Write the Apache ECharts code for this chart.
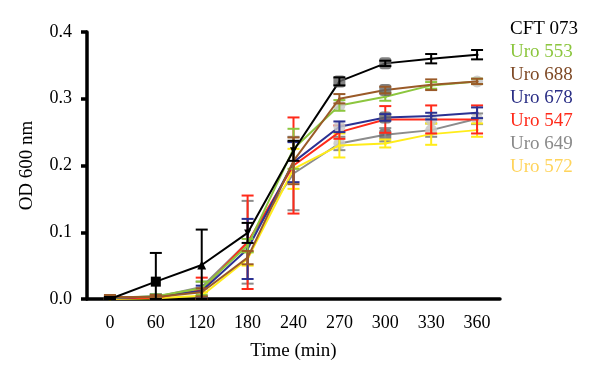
<!DOCTYPE html>
<html><head><meta charset="utf-8">
<script src="https://cdn.jsdelivr.net/npm/echarts@6/dist/echarts.min.js"></script>
<style>html,body{margin:0;padding:0;background:#fff}#c{width:600px;height:379px}</style>
</head><body><div id="c"></div>
<script>
var categories = ['0','60','120','180','240','270','300','330','360'];
var seriesNames = ['CFT 073','Uro 553','Uro 688','Uro 678','Uro 547','Uro 649','Uro 572'];
var lineColors = ['#000000','#8cc63e','#9a5a28','#2b3192','#ff2a1a','#8c8c8c','#ffec1a'];
var legendColors = ['#000000','#8cc63e','#7f4a26','#2b2f86','#ff2a1a','#8a8a8a','#ffd45c'];
var cft073 = [0.0, 0.026, 0.051, 0.099, 0.222, 0.326, 0.353, 0.36, 0.366];
var uro553 = [0.002, 0.004, 0.016, 0.08, 0.225, 0.29, 0.303, 0.32, 0.326];
var uro688 = [0.003, 0.003, 0.01, 0.062, 0.207, 0.3, 0.313, 0.321, 0.326];
var uro678 = [0.001, 0.004, 0.012, 0.075, 0.205, 0.258, 0.272, 0.274, 0.279];
var uro547 = [0.001, 0.002, 0.014, 0.085, 0.2, 0.25, 0.269, 0.269, 0.269];
var uro649 = [0.001, 0.003, 0.018, 0.085, 0.188, 0.233, 0.246, 0.253, 0.27];
var uro572 = [0.0, 0.001, 0.005, 0.06, 0.195, 0.23, 0.233, 0.247, 0.253];
var errCft073 = [0.003, 0.043, 0.053, 0.015, 0.015, 0.006, 0.004, 0.007, 0.007];
var err553 = [0.003, 0.003, 0.01, 0.01, 0.03, 0.008, 0.006, 0.005, 0.004];
var err688 = [0.003, 0.003, 0.006, 0.01, 0.035, 0.007, 0.005, 0.008, 0.004];
var err678 = [0.002, 0.003, 0.008, 0.045, 0.03, 0.008, 0.005, 0.005, 0.008];
var err547 = [0.002, 0.002, 0.018, 0.07, 0.072, 0.01, 0.02, 0.021, 0.021];
var err649 = [0.002, 0.002, 0.008, 0.062, 0.055, 0.01, 0.01, 0.01, 0.008];
var err572 = [0.002, 0.002, 0.005, 0.01, 0.03, 0.018, 0.006, 0.016, 0.01];
var yTicks = {min: 0, max: 0.4, interval: 0.1};

var values = [cft073, uro553, uro688, uro678, uro547, uro649, uro572];
var errors = [errCft073, err553, err688, err678, err547, err649, err572];
var font = 'Liberation Serif';

// marker styling (style only: which symbol is drawn on a given point)
var DARK = {symbol: 'roundRect', symbolSize: 12, itemStyle: {color: 'rgba(100,100,100,0.8)'}};
var LIGHT = {symbol: 'circle', symbolSize: 12, itemStyle: {color: 'rgba(200,200,200,0.85)'}};
var markerStyle = {
  0: {1: {symbol: 'rect', symbolSize: 10, itemStyle: {color: '#000'}},
      2: {symbol: 'triangle', symbolSize: 9, itemStyle: {color: '#000'}},
      3: {symbol: 'triangle', symbolRotate: 180, symbolSize: 7, itemStyle: {color: '#000'}},
      4: {symbol: 'triangle', symbolRotate: 180, symbolSize: 7, itemStyle: {color: '#000'}},
      5: DARK, 6: DARK},
  1: {5: LIGHT, 8: LIGHT},
  2: {6: DARK},
  3: {5: LIGHT, 6: DARK},
  4: {7: LIGHT},
  5: {5: LIGHT, 6: DARK, 7: LIGHT, 8: LIGHT}
};

var series = [];
var order = [5, 6, 4, 3, 1, 2, 0];
order.forEach(function (k, idx) {
  var col = lineColors[k];
  var ebData = values[k].map(function (v, i) {
    return [i, Math.max(0, v - errors[k][i]), v + errors[k][i]];
  });
  var ms = markerStyle[k] || {};
  var lineData = values[k].map(function (v, i) {
    var item = {value: v};
    if (ms[i]) { for (var key in ms[i]) item[key] = ms[i][key]; }
    return item;
  });
  series.push({
    type: 'line', name: seriesNames[k], z: 2 + idx * 2,
    data: lineData,
    symbol: 'circle',
    symbolSize: 3,
    lineStyle: {color: col, width: 2},
    itemStyle: {color: col},
    animation: false
  });
  series.push({
    type: 'custom', name: seriesNames[k], z: 3 + idx * 2, silent: true,
    data: ebData,
    renderItem: function (params, api) {
      var lo = api.coord([api.value(0), api.value(1)]);
      var hi = api.coord([api.value(0), api.value(2)]);
      var w = 6;
      var st = {stroke: col, lineWidth: 2, fill: null};
      return {type: 'group', children: [
        {type: 'line', shape: {x1: lo[0], y1: lo[1], x2: hi[0], y2: hi[1]}, style: st},
        {type: 'line', shape: {x1: lo[0] - w, y1: lo[1], x2: lo[0] + w, y2: lo[1]}, style: st},
        {type: 'line', shape: {x1: hi[0] - w, y1: hi[1], x2: hi[0] + w, y2: hi[1]}, style: st}
      ]};
    }
  });
});

var chart = echarts.init(document.getElementById('c'));
chart.setOption({
  animation: false,
  backgroundColor: '#fff',
  grid: {left: 87, top: 32, width: 413, height: 267},
  legend: {
    orient: 'vertical', left: 505, top: 20, itemGap: 4, padding: 0,
    itemWidth: 0, itemHeight: 0, icon: 'none',
    selectedMode: false,
    data: seriesNames.map(function (n, i) {
      return {name: n, icon: 'none', textStyle: {color: legendColors[i]}};
    }),
    textStyle: {fontFamily: font, fontSize: 19, lineHeight: 19, padding: [0, 0, 0, 0]}
  },
  xAxis: {
    type: 'category', data: categories, boundaryGap: true,
    name: 'Time (min)', nameLocation: 'middle', nameGap: 43,
    nameTextStyle: {fontFamily: font, fontSize: 19, color: '#000'},
    axisLine: {lineStyle: {color: '#000', width: 3.5}},
    axisTick: {alignWithLabel: true, length: 6, lineStyle: {width: 3.5, color: '#000'}},
    axisLabel: {fontFamily: font, fontSize: 18, color: '#000', margin: 15}
  },
  yAxis: {
    type: 'value', min: yTicks.min, max: yTicks.max, interval: yTicks.interval,
    name: 'OD 600 nm', nameLocation: 'middle', nameGap: 50,
    nameTextStyle: {fontFamily: font, fontSize: 19, color: '#000'},
    axisLine: {show: true, lineStyle: {color: '#000', width: 3.5}},
    axisTick: {show: true, length: 6, lineStyle: {width: 3.5, color: '#000'}},
    splitLine: {show: false},
    axisLabel: {fontFamily: font, fontSize: 18, color: '#000', margin: 15,
      formatter: function (v) { return v.toFixed(1); }}
  },
  series: series
});
</script></body></html>
